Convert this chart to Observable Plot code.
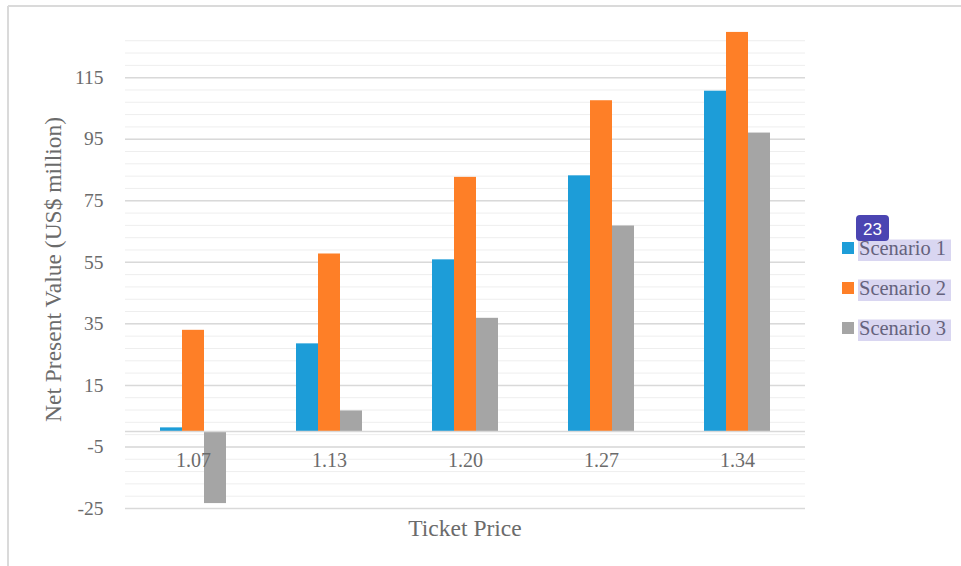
<!DOCTYPE html>
<html><head><meta charset="utf-8">
<script src="https://cdn.jsdelivr.net/npm/d3@7"></script>
<script src="https://cdn.jsdelivr.net/npm/@observablehq/plot@0.6"></script>
<style>
body{margin:0;background:#fff;}
#wrap{position:relative;width:961px;height:566px;overflow:hidden;}
</style></head><body><div id="wrap"></div>
<script>
const categories = ["1.07", "1.13", "1.20", "1.27", "1.34"];
const scenarios = ["Scenario 1", "Scenario 2", "Scenario 3"];
const scenario1 = [1.2, 28.5, 55.8, 83.1, 110.6];
const scenario2 = [32.9, 57.7, 82.6, 107.5, 129.7];
const scenario3 = [-23.4, 6.7, 36.8, 66.8, 97.0];
const colors = ["#1d9dd8", "#fe7f27", "#a5a5a5"];
const yTicks = [-25, -5, 15, 35, 55, 75, 95, 115];
const yMinor = d3.range(-25, 128, 4);
const yDomain = [-25, 130];
const xTitle = "Ticket Price";
const yTitle = "Net Present Value (US$ million)";
const badgeText = "23";

const series = [scenario1, scenario2, scenario3];
const data = [];
categories.forEach((c, i) => series.forEach((s, j) => data.push({category: c, scenario: scenarios[j], value: s[i]})));

const textColor = "#6b6b6b";
const chart = Plot.plot({
  width: 961, height: 566,
  marginLeft: 124, marginRight: 155, marginTop: 31, marginBottom: 58,
  style: {fontFamily: "'Liberation Serif', serif", fontSize: "19.5px", color: textColor, background: "transparent", overflow: "visible"},
  fx: {domain: categories, paddingInner: 0, paddingOuter: 0, axis: null, label: null},
  x: {domain: scenarios, paddingInner: 0, paddingOuter: 1.5, axis: null, label: null},
  y: {domain: yDomain, ticks: yTicks, tickSize: 0, tickPadding: 22, tickFormat: d => String(d), label: null},
  color: {domain: scenarios, range: colors},
  marks: [
    Plot.ruleY(yMinor, {stroke: "#eeeeee", strokeWidth: 1}),
    Plot.ruleY(yTicks, {stroke: "#d9d9d9", strokeWidth: 1.5}),
    Plot.barY(data, {fx: "category", x: "scenario", y: "value", fill: "scenario"}),
    Plot.ruleY([0], {stroke: "#d9d9d9", strokeWidth: 1.5}),
    Plot.text(categories, {fx: d => d, y: () => 0, text: d => d, dy: 29.5, fontSize: 20, fill: textColor})
  ]
});
document.getElementById("wrap").appendChild(chart);

const svg = d3.select(chart);
const serif = "'Liberation Serif', serif";
// chart frame (top and left edges)
svg.append("line").attr("x1", 8).attr("y1", 6).attr("x2", 961).attr("y2", 6).attr("stroke", "#dadada").attr("stroke-width", 2);
svg.append("line").attr("x1", 8).attr("y1", 6).attr("x2", 8).attr("y2", 566).attr("stroke", "#dadada").attr("stroke-width", 2);
// titles
svg.append("text").attr("x", 465).attr("y", 535.5).attr("text-anchor", "middle")
  .attr("font-family", serif).attr("font-size", 23.5).attr("fill", textColor).text(xTitle);
svg.append("text").attr("transform", "translate(61,269.5) rotate(-90)").attr("text-anchor", "middle")
  .attr("font-family", serif).attr("font-size", 23.5).attr("fill", textColor).text(yTitle);
// legend
scenarios.forEach((s, k) => {
  const g = svg.append("g").attr("transform", `translate(0,${40 * k})`);
  g.append("rect").attr("x", 842).attr("y", 242).attr("width", 12).attr("height", 12).attr("fill", colors[k]);
  g.append("text").attr("x", 859).attr("y", 255).attr("text-anchor", "start").attr("font-family", serif).attr("font-size", 20.5).attr("fill", textColor).text(s);
  g.append("rect").attr("x", 858).attr("y", 239.5).attr("width", 93).attr("height", 21.5).attr("fill", "rgba(80,70,190,0.22)");
});
// badge
svg.append("rect").attr("x", 856).attr("y", 215).attr("width", 33).attr("height", 26).attr("rx", 4).attr("fill", "#4b45b2");
svg.append("text").attr("x", 872.5).attr("y", 234.5).attr("text-anchor", "middle")
  .attr("font-family", "'Liberation Sans', Arial, sans-serif").attr("font-size", 17).attr("fill", "#fff").text(badgeText);
</script>
</body></html>
